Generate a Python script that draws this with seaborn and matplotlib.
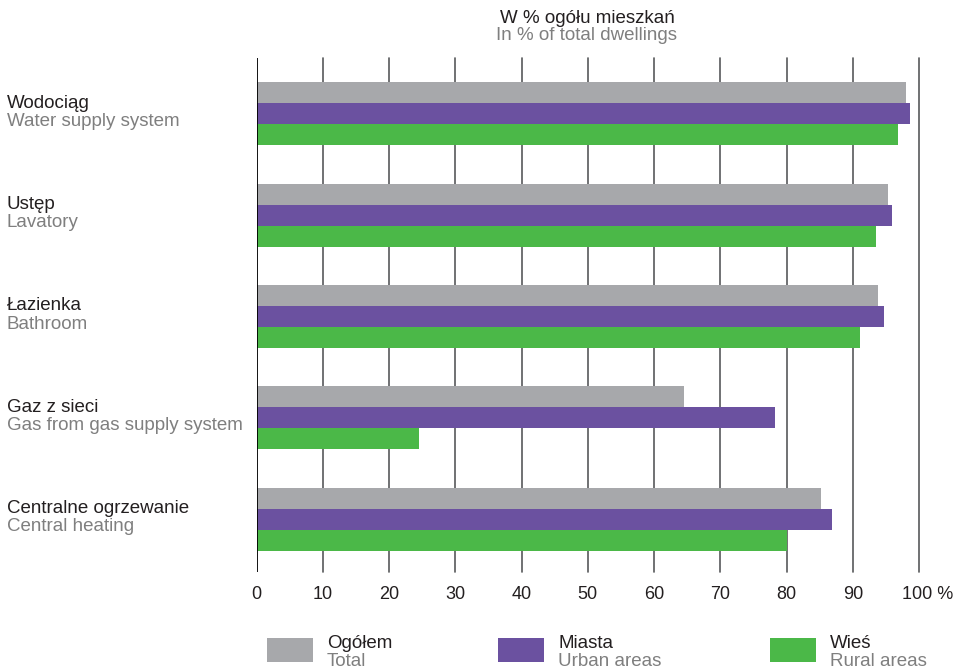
import pandas as pd
import matplotlib.pyplot as plt
from matplotlib.patches import Rectangle
from matplotlib.transforms import blended_transform_factory, ScaledTranslation
import seaborn as sns

# dane
categories_pl = ['Wodociąg', 'Ustęp', 'Łazienka', 'Gaz z sieci', 'Centralne ogrzewanie']
categories_en = ['Water supply system', 'Lavatory', 'Bathroom', 'Gas from gas supply system', 'Central heating']
series_pl = ['Ogółem', 'Miasta', 'Wieś']
series_en = ['Total', 'Urban areas', 'Rural areas']
total = [98.0, 95.3, 93.8, 64.6, 85.2]
urban = [98.6, 95.9, 94.7, 78.3, 86.9]
rural = [96.8, 93.5, 91.1, 24.5, 80.1]
tick_values = [0, 10, 20, 30, 40, 50, 60, 70, 80, 90, 100]
tick_labels = ['0', '10', '20', '30', '40', '50', '60', '70', '80', '90', '100 %']

colors = ['#A7A8AB', '#6B51A0', '#4BB848']
dark = '#231F20'
grey_txt = '#7F7F7F'

df = pd.DataFrame({
    'kat': categories_pl * 3,
    'seria': [s for s in series_pl for _ in categories_pl],
    'wartosc': total + urban + rural,
})

sns.set_style('white')
plt.rcParams['font.family'] = ['Liberation Sans', 'DejaVu Sans']

fig = plt.figure(figsize=(9.56, 6.69), dpi=100)
ax = fig.add_axes([256.5 / 956, 1 - 572 / 669, (919 - 256.5) / 956, (572 - 58) / 669])

sns.barplot(data=df, y='kat', x='wartosc', hue='seria', order=categories_pl,
            hue_order=series_pl, palette=colors, orient='h', width=0.62,
            saturation=1, legend=False, ax=ax, linewidth=0)

ax.set_xlim(0, 100)
ax.set_ylim(4.52, -0.55)
ax.set_xticks(tick_values)
ax.set_xticklabels(tick_labels, fontsize=13, color=dark)
ax.tick_params(axis='x', length=0, pad=10)
# "100 %" - liczba nad linią, znak % wystaje w prawo
last = ax.get_xticklabels()[-1]
last.set_transform(last.get_transform() + ScaledTranslation(9 / 100, 0, fig.dpi_scale_trans))
ax.set_yticks([])
ax.set_xlabel('')
ax.set_ylabel('')
for s in ax.spines.values():
    s.set_visible(False)

# linie siatki
for v in tick_values[1:]:
    ax.axvline(v, color='#58595B', lw=1.2, zorder=0, clip_on=False)
ax.axvline(0, color='black', lw=1.3, zorder=3)

# etykiety kategorii
tr = blended_transform_factory(fig.transFigure, ax.transData)
for i, (pl, en) in enumerate(zip(categories_pl, categories_en)):
    fig.text(7 / 956, i - 0.06, pl, transform=tr, fontsize=13.5, color=dark, va='baseline')
    fig.text(7 / 956, i + 0.12, en, transform=tr, fontsize=13.5, color=grey_txt, va='baseline')

# tytuł
fig.text(587 / 956, 1 - 23 / 669, 'W % ogółu mieszkań', ha='center', va='baseline',
         fontsize=13.5, color=dark)
fig.text(587 / 956, 1 - 40 / 669, 'In % of total dwellings', ha='center', va='baseline',
         fontsize=13.5, color=grey_txt)

# legenda
box_x = [267, 498, 770]
for bx, c, pl, en in zip(box_x, colors, series_pl, series_en):
    fig.add_artist(Rectangle((bx / 956, 1 - 662 / 669), 46 / 956, 24 / 669,
                             transform=fig.transFigure, color=c, lw=0))
    fig.text((bx + 60) / 956, 1 - 648 / 669, pl, fontsize=13.5, color=dark, va='baseline')
    fig.text((bx + 60) / 956, 1 - 666 / 669, en, fontsize=13.5, color=grey_txt, va='baseline')

fig.savefig('out.png', dpi=100)
